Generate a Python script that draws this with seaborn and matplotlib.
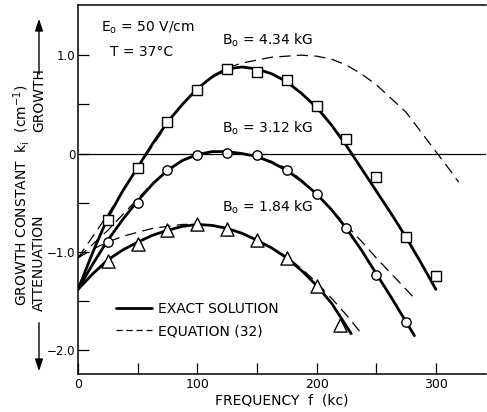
import numpy as np
import pandas as pd
import matplotlib
matplotlib.use("Agg")
import matplotlib.pyplot as plt
import seaborn as sns
from matplotlib.lines import Line2D
from matplotlib.patches import FancyArrowPatch

# ---- measured points (frequency in kc, growth constant k_i in 1/cm) ----
f_sq = [25, 50, 75, 100, 125, 150, 175, 200, 225, 250, 275, 300]
k_sq = [-0.67, -0.15, 0.32, 0.65, 0.86, 0.83, 0.75, 0.48, 0.15, -0.24, -0.85, -1.24]

f_ci = [25, 50, 75, 100, 125, 150, 175, 200, 225, 250, 275]
k_ci = [-0.90, -0.50, -0.17, -0.015, 0.01, -0.01, -0.17, -0.41, -0.76, -1.23, -1.71]

f_tr = [25, 50, 75, 100, 125, 150, 175, 200, 220]
k_tr = [-1.09, -0.92, -0.78, -0.72, -0.77, -0.88, -1.06, -1.35, -1.74]

# ---- exact solution curves ----
f_ex434 = [0, 12.5, 25, 37.5, 50, 62.5, 75, 87.5, 100, 112.5, 125, 137.5, 150, 162.5,
           175, 187.5, 200, 212.5, 225, 237.5, 250, 262.5, 275, 287.5, 300]
k_ex434 = [-1.38, -1.00, -0.65, -0.38, -0.14, 0.10, 0.32, 0.50, 0.66, 0.78, 0.86, 0.88, 0.86, 0.81,
           0.73, 0.61, 0.47, 0.29, 0.08, -0.15, -0.38, -0.61, -0.85, -1.11, -1.38]

f_ex312 = [0, 12.5, 25, 37.5, 50, 62.5, 75, 87.5, 100, 112.5, 125, 137.5, 150, 162.5,
           175, 187.5, 200, 212.5, 225, 237.5, 250, 262.5, 275, 282]
k_ex312 = [-1.38, -1.12, -0.88, -0.67, -0.48, -0.31, -0.17, -0.07, -0.01, 0.02, 0.02, 0.00, -0.03, -0.09,
           -0.17, -0.28, -0.41, -0.57, -0.76, -0.98, -1.22, -1.46, -1.71, -1.85]

f_ex184 = [0, 12.5, 25, 37.5, 50, 62.5, 75, 87.5, 100, 112.5, 125, 137.5, 150, 162.5,
           175, 187.5, 200, 212.5, 220, 229]
k_ex184 = [-1.38, -1.22, -1.08, -0.98, -0.90, -0.83, -0.78, -0.74, -0.72, -0.73, -0.76, -0.81, -0.88, -0.96,
           -1.06, -1.19, -1.34, -1.52, -1.66, -1.83]

# ---- equation (32) curves ----
f_eq434 = [0, 12.5, 25, 37.5, 50, 62.5, 75, 87.5, 100, 112.5, 125, 137.5, 150, 162.5,
           175, 187.5, 200, 212.5, 225, 237.5, 250, 262.5, 275, 287.5, 300, 312.5, 319]
k_eq434 = [-1.06, -0.84, -0.62, -0.38, -0.15, 0.08, 0.30, 0.50, 0.66, 0.79, 0.87, 0.92, 0.95, 0.98,
           0.99, 1.00, 0.99, 0.96, 0.90, 0.81, 0.70, 0.56, 0.42, 0.22, 0.02, -0.18, -0.29]

f_eq312 = [0, 12.5, 25, 37.5, 50, 62.5, 75, 87.5, 100, 112.5, 125, 137.5, 150, 162.5,
           175, 187.5, 200, 212.5, 225, 237.5, 250, 262.5, 275, 282]
k_eq312 = [-1.06, -0.92, -0.78, -0.62, -0.46, -0.30, -0.17, -0.07, -0.01, 0.02, 0.02, 0.00, -0.03, -0.08,
           -0.15, -0.27, -0.41, -0.57, -0.73, -0.89, -1.06, -1.22, -1.38, -1.47]

f_eq184 = [0, 12.5, 25, 37.5, 50, 62.5, 75, 87.5, 100, 112.5, 125, 137.5, 150, 162.5,
           175, 187.5, 200, 212.5, 225, 237]
k_eq184 = [-1.06, -0.97, -0.90, -0.84, -0.80, -0.76, -0.74, -0.72, -0.72, -0.73, -0.76, -0.81, -0.88, -0.96,
           -1.05, -1.17, -1.31, -1.47, -1.64, -1.82]

x_ticks_major = [0, 100, 200, 300]
y_ticks_major = [-2.0, -1.0, 0.0, 1.0]
y_tick_labels = ["\u22122.0", "\u22121.0", "0", "1.0"]

sns.set_style("ticks")
plt.rcParams["font.family"] = ["DejaVu Sans"]
plt.rcParams.update({"text.color": "black", "axes.labelcolor": "black",
                     "xtick.color": "black", "ytick.color": "black",
                     "axes.edgecolor": "black"})

W, H = 487, 412
fig = plt.figure(figsize=(W / 100, H / 100), dpi=100)
ax = fig.add_axes([78 / W, 1 - 374 / H, (486 - 78) / W, (374 - 5) / H])

# zero reference line
ax.axhline(0, color="black", lw=0.9, zorder=1)

def curve(f, k, **kw):
    sns.lineplot(x=f, y=k, ax=ax, sort=False, estimator=None, color="black", **kw)

for f, k in [(f_ex434, k_ex434), (f_ex312, k_ex312), (f_ex184, k_ex184)]:
    curve(f, k, lw=2.0, zorder=3)
for f, k in [(f_eq434, k_eq434), (f_eq312, k_eq312), (f_eq184, k_eq184)]:
    curve(f, k, lw=0.9, dashes=False, linestyle=(0, (9, 5)), zorder=2)

mk = dict(color="white", edgecolor="black", linewidth=1.0, zorder=4, ax=ax, legend=False)
sns.scatterplot(x=f_sq, y=k_sq, marker="s", s=55, **mk)
sns.scatterplot(x=f_ci, y=k_ci, marker="o", s=45, **mk)
sns.scatterplot(x=f_tr, y=k_tr, marker="^", s=90, **mk)

ax.set_xlim(0, 342)
ax.set_ylim(-2.24, 1.51)
ax.set_xticks(x_ticks_major)
ax.set_xticks(np.arange(50, 341, 100), minor=True)
ax.set_yticks(y_ticks_major)
ax.set_yticklabels(y_tick_labels)
ax.set_yticks([-1.5, -0.5, 0.5], minor=True)
ax.tick_params(axis="both", which="both", direction="in", length=8, width=0.9,
               labelsize=9, color="black", labelcolor="black")
ax.tick_params(axis="y", labelsize=8.5, pad=2)
ax.tick_params(axis="x", pad=3)
for side in ["left", "top", "bottom"]:
    ax.spines[side].set_linewidth(1.1)
    ax.spines[side].set_color("black")
ax.spines["right"].set_visible(False)

ax.set_xlabel("FREQUENCY  f  (kc)", fontsize=10, labelpad=2)
ax.set_ylabel("")

# annotations inside the plot
tx = dict(transform=ax.transAxes, fontsize=10, ha="left", va="center", color="black")
ax.text((101 - 78) / 408, (374 - 28) / 369, r"E$_\mathregular{o}$ = 50 V/cm", **tx)
ax.text((110 - 78) / 408, (374 - 52) / 369, "T = 37°C", **tx)
ax.text((222 - 78) / 408, (374 - 40) / 369, r"B$_\mathregular{o}$ = 4.34 kG", **tx)
ax.text((222 - 78) / 408, (374 - 128) / 369, r"B$_\mathregular{o}$ = 3.12 kG", **tx)
ax.text((222 - 78) / 408, (374 - 207) / 369, r"B$_\mathregular{o}$ = 1.84 kG", **tx)

handles = [Line2D([], [], color="black", lw=2.0),
           Line2D([], [], color="black", lw=0.9, linestyle=(0, (5, 3)))]
leg = ax.legend(handles, ["EXACT SOLUTION", "EQUATION (32)"], loc="center left",
                bbox_to_anchor=((116 - 78) / 408, (374 - 320) / 369), frameon=False,
                fontsize=10, handlelength=2.6, handletextpad=0.4, labelspacing=0.6,
                borderaxespad=0, borderpad=0)
for t in leg.get_texts():
    t.set_color("black")

# y-axis label with growth / attenuation arrows
fig.text(22 / W, 1 - 195 / H, r"GROWTH CONSTANT  k$_\mathregular{i}$  (cm$^{-1}$)",
         rotation=90, ha="center", va="center", fontsize=10, color="black")
fig.text(39 / W, 1 - 100 / H, "GROWTH", rotation=90, ha="center", va="center",
         fontsize=10, color="black")
fig.text(39 / W, 1 - 263 / H, "ATTENUATION", rotation=90, ha="center", va="center",
         fontsize=10, color="black")
arr = dict(arrowstyle="-|>,head_length=0.6,head_width=0.2", color="black", lw=1.0,
           mutation_scale=12, transform=fig.transFigure)
fig.add_artist(FancyArrowPatch((39 / W, 1 - 77 / H), (39 / W, 1 - 16 / H), **arr))
fig.add_artist(FancyArrowPatch((39 / W, 1 - 320 / H), (39 / W, 1 - 374 / H), **arr))

fig.savefig("out.png", dpi=100)
